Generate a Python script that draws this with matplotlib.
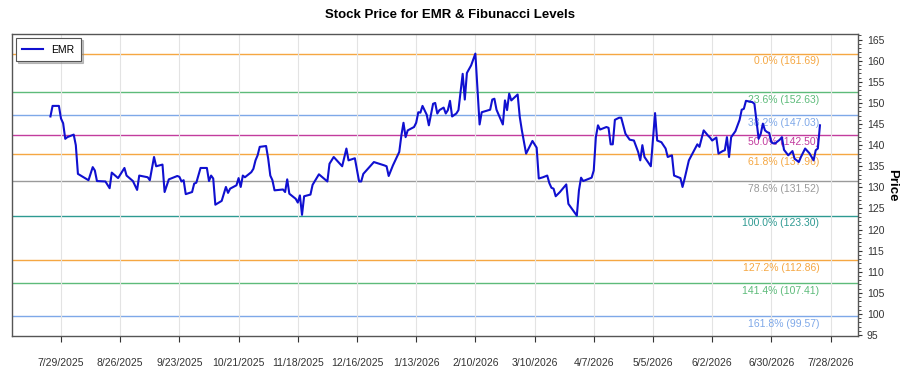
import matplotlib
matplotlib.use('Agg')
import matplotlib.pyplot as plt
import matplotlib.dates as mdates
import matplotlib.transforms as mtransforms
from matplotlib.ticker import MultipleLocator
import pandas as pd

plt.rcParams['font.family'] = ['Liberation Sans', 'DejaVu Sans']

ticker = 'EMR'

dates = [
    '2025-07-24', '2025-07-25', '2025-07-28', '2025-07-29', '2025-07-30', '2025-07-31', '2025-08-01',
    '2025-08-04', '2025-08-05', '2025-08-06', '2025-08-08', '2025-08-11', '2025-08-13', '2025-08-14',
    '2025-08-15', '2025-08-19', '2025-08-21', '2025-08-22', '2025-08-25', '2025-08-28', '2025-08-29',
    '2025-09-01', '2025-09-03', '2025-09-04', '2025-09-08', '2025-09-09', '2025-09-11', '2025-09-12',
    '2025-09-15', '2025-09-16', '2025-09-18', '2025-09-22', '2025-09-23', '2025-09-24', '2025-09-25',
    '2025-09-26', '2025-09-29', '2025-09-30', '2025-10-01', '2025-10-03', '2025-10-06', '2025-10-07',
    '2025-10-08', '2025-10-09', '2025-10-10', '2025-10-13', '2025-10-15', '2025-10-16', '2025-10-17',
    '2025-10-20', '2025-10-21', '2025-10-22', '2025-10-23', '2025-10-24', '2025-10-27', '2025-10-28',
    '2025-10-29', '2025-10-30', '2025-10-31', '2025-11-03', '2025-11-04', '2025-11-05', '2025-11-06',
    '2025-11-07', '2025-11-11', '2025-11-12', '2025-11-13', '2025-11-14', '2025-11-17', '2025-11-18',
    '2025-11-19', '2025-11-20', '2025-11-21', '2025-11-24', '2025-11-25', '2025-11-28', '2025-12-01',
    '2025-12-02', '2025-12-03', '2025-12-05', '2025-12-09', '2025-12-11', '2025-12-12', '2025-12-15',
    '2025-12-17', '2025-12-18', '2025-12-19', '2025-12-24', '2025-12-29', '2025-12-30', '2025-12-31',
    '2026-01-02', '2026-01-05', '2026-01-06', '2026-01-07', '2026-01-08', '2026-01-09', '2026-01-12',
    '2026-01-13', '2026-01-14', '2026-01-15', '2026-01-16', '2026-01-18', '2026-01-19', '2026-01-21',
    '2026-01-22', '2026-01-23', '2026-01-24', '2026-01-26', '2026-01-27', '2026-01-28', '2026-01-29',
    '2026-01-30', '2026-02-01', '2026-02-02', '2026-02-04', '2026-02-05', '2026-02-06', '2026-02-08',
    '2026-02-10', '2026-02-12', '2026-02-13', '2026-02-17', '2026-02-18', '2026-02-19', '2026-02-20',
    '2026-02-23', '2026-02-24', '2026-02-25', '2026-02-26', '2026-02-27', '2026-03-02', '2026-03-03',
    '2026-03-04', '2026-03-06', '2026-03-09', '2026-03-11', '2026-03-12', '2026-03-14', '2026-03-16',
    '2026-03-17', '2026-03-18', '2026-03-19', '2026-03-20', '2026-03-22', '2026-03-25', '2026-03-26',
    '2026-03-30', '2026-03-31', '2026-04-01', '2026-04-02', '2026-04-06', '2026-04-07', '2026-04-08',
    '2026-04-09', '2026-04-10', '2026-04-13', '2026-04-14', '2026-04-15', '2026-04-16', '2026-04-17',
    '2026-04-19', '2026-04-20', '2026-04-22', '2026-04-24', '2026-04-26', '2026-04-28', '2026-04-29',
    '2026-04-30', '2026-05-01', '2026-05-04', '2026-05-06', '2026-05-07', '2026-05-09', '2026-05-11',
    '2026-05-12', '2026-05-14', '2026-05-15', '2026-05-18', '2026-05-19', '2026-05-20', '2026-05-22',
    '2026-05-26', '2026-05-27', '2026-05-29', '2026-05-31', '2026-06-01', '2026-06-02', '2026-06-04',
    '2026-06-05', '2026-06-07', '2026-06-08', '2026-06-09', '2026-06-10', '2026-06-11', '2026-06-13',
    '2026-06-15', '2026-06-16', '2026-06-17', '2026-06-18', '2026-06-21', '2026-06-22', '2026-06-24',
    '2026-06-25', '2026-06-26', '2026-06-27', '2026-06-28', '2026-06-29', '2026-06-30', '2026-07-01',
    '2026-07-02', '2026-07-04', '2026-07-05', '2026-07-06', '2026-07-08', '2026-07-10', '2026-07-11',
    '2026-07-13', '2026-07-14', '2026-07-16', '2026-07-18', '2026-07-20', '2026-07-21', '2026-07-22',
    '2026-07-23',
]

prices = [
    146.8, 149.3, 149.3, 146.3, 145.2, 141.5, 141.9,
    142.5, 140.0, 133.2, 132.6, 131.7, 134.8, 134.0,
    131.5, 131.4, 129.8, 133.5, 132.2, 134.6, 132.8,
    131.5, 129.4, 132.8, 132.4, 131.7, 137.2, 135.0,
    135.4, 128.9, 131.9, 132.7, 132.5, 131.4, 131.7,
    128.4, 128.9, 130.9, 131.1, 134.6, 134.6, 131.5,
    132.8, 132.1, 125.9, 126.8, 130.1, 128.7, 129.7,
    130.5, 132.2, 130.1, 132.8, 132.4, 133.6, 134.4,
    136.4, 137.6, 139.6, 139.8, 136.8, 132.8, 131.7,
    129.3, 129.5, 128.9, 131.9, 128.5, 127.3, 126.4,
    128.1, 123.5, 127.9, 128.3, 130.6, 133.1, 131.8,
    131.4, 135.6, 137.2, 135.0, 139.2, 136.4, 136.9,
    131.4, 131.4, 133.2, 136.0, 135.2, 135.0, 132.7,
    135.2, 138.4, 142.3, 145.3, 141.9, 143.5, 144.3,
    145.3, 147.8, 147.7, 149.3, 147.2, 144.7, 149.8,
    150.0, 147.5, 148.3, 148.9, 147.5, 148.3, 150.5,
    146.8, 147.5, 148.3, 156.9, 150.8, 157.1, 158.9,
    161.69, 144.9, 147.8, 148.4, 150.8, 151.0, 148.4,
    144.9, 150.6, 148.3, 152.2, 150.6, 152.0, 146.7,
    143.5, 138.0, 141.0, 139.4, 132.1, 132.4, 132.8,
    131.0, 129.9, 129.7, 127.9, 128.9, 130.7, 126.1,
    123.30, 129.3, 132.3, 131.5, 132.3, 134.0, 141.9,
    144.7, 143.7, 144.3, 144.1, 140.2, 140.2, 146.0,
    146.5, 146.5, 142.7, 141.3, 141.1, 138.4, 136.4,
    140.0, 137.2, 135.0, 147.6, 141.1, 140.7, 139.2,
    137.2, 137.6, 132.8, 132.2, 130.1, 132.1, 136.4,
    140.2, 139.6, 143.5, 142.3, 141.8, 141.1, 141.8,
    138.0, 138.6, 138.8, 141.9, 137.2, 141.9, 143.3,
    146.0, 148.4, 148.6, 150.5, 150.2, 149.8, 141.5,
    142.7, 145.1, 143.5, 143.1, 142.9, 140.7, 140.4,
    140.5, 141.3, 141.9, 138.9, 137.6, 138.6, 136.8,
    136.0, 137.2, 139.2, 138.1, 136.4, 138.8, 139.2,
    144.7,
]

fib_names = ['0.0%', '23.6%', '38.2%', '50.0%', '61.8%', '78.6%', '100.0%', '127.2%', '141.4%', '161.8%']
fib_values = [161.69, 152.63, 147.03, 142.50, 137.96, 131.52, 123.30, 112.86, 107.41, 99.57]
fib_colors = ['#f5a742', '#5dbb7a', '#7ea8e8', '#c23c9e', '#f5a742',
              '#9a9a9a', '#2e9a92', '#f5a742', '#5dbb7a', '#7ea8e8']

x = pd.to_datetime(dates)

fig = plt.figure(figsize=(9, 3.75), dpi=100)
ax = fig.add_axes([0.0133, 0.104, 0.9405, 0.805])

for name, val, col in zip(fib_names, fib_values, fib_colors):
    ax.axhline(val, color=col, lw=1.0, zorder=1)
    offset = mtransforms.offset_copy(ax.get_yaxis_transform(), fig=fig, x=0, y=-2, units='points')
    ax.text(0.954, val, f'{name} ({val:.2f})', transform=offset, ha='right', va='top',
            fontsize=7.5, color=col, zorder=2)

ax.plot(x, prices, color='#1010d0', lw=1.5, label=ticker, zorder=3)

ax.set_ylim(94.8, 166.3)
ax.yaxis.tick_right()
ax.yaxis.set_label_position('right')
ax.yaxis.set_major_locator(MultipleLocator(5))
ax.yaxis.set_minor_locator(MultipleLocator(1))
ax.tick_params(axis='y', which='major', length=3, labelsize=7.5, colors='#333333', pad=3)
ax.tick_params(axis='y', which='minor', length=2, color='#333333')
ax.set_ylabel('Price', fontsize=9.5, fontweight='bold', rotation=270, labelpad=10)

ticks = pd.date_range('2025-07-29', '2026-07-28', freq='28D')
ax.set_xticks(ticks)
ax.xaxis.set_major_formatter(mdates.DateFormatter('%-m/%-d/%Y'))
ax.tick_params(axis='x', length=4, labelsize=7.5, colors='#333333', pad=12)
ax.grid(axis='x', color='#e3e3e3', lw=0.8, zorder=0)

for s in ax.spines.values():
    s.set_color('#555555')
    s.set_linewidth(1.0)

leg = ax.legend(loc='upper left', fontsize=7.5, fancybox=False, shadow={'ox': 1.5, 'oy': -1.5, 'color': '#888888'},
                edgecolor='#555555', handlelength=2.0, borderaxespad=0.4, borderpad=0.6)
leg.get_frame().set_linewidth(0.8)

fig.suptitle(f'Stock Price for {ticker} & Fibunacci Levels', fontsize=9.5, fontweight='bold', y=0.975)

fig.savefig('out.png', dpi=100)
